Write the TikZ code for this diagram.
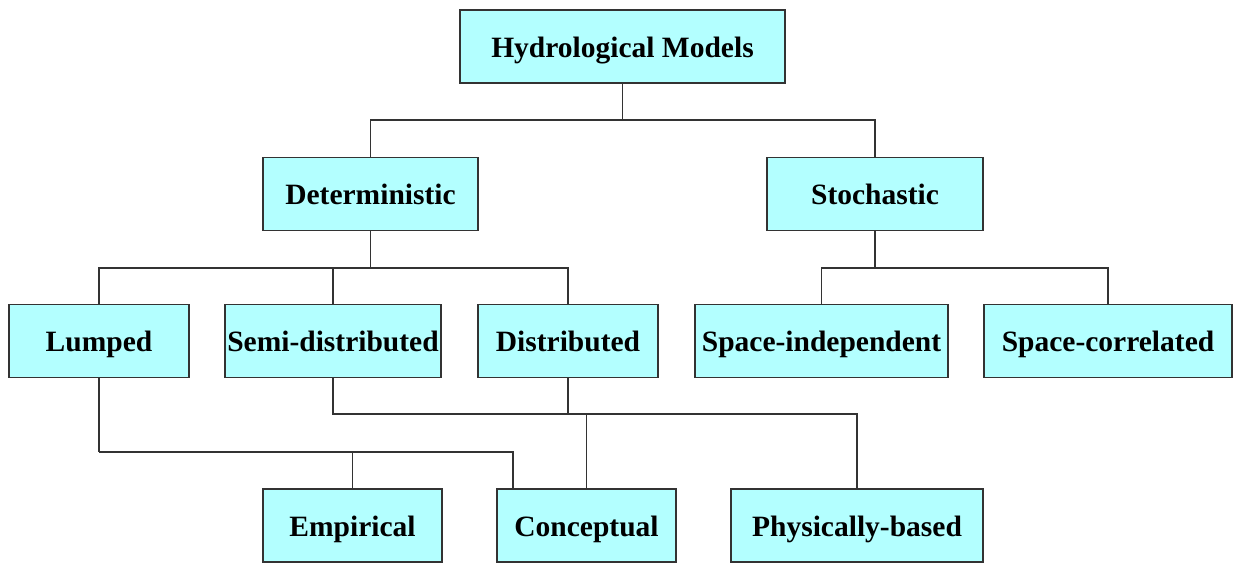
\documentclass[tikz,border=0pt]{standalone}
\usepackage{fontspec}
\setmainfont{Liberation Serif}
\definecolor{boxfill}{HTML}{B3FFFF}
\definecolor{linec}{HTML}{333333}
\begin{document}
\begin{tikzpicture}[x=1pt,y=-1pt,
  mbox/.style={draw=linec,line width=1.5pt,fill=boxfill,inner sep=0pt,
    minimum height=73pt,text height=23.5pt,text depth=2.5pt,
    font=\fontsize{29.5}{34}\selectfont\bfseries},
  conn/.style={draw=linec,line width=1.6pt}]
\useasboundingbox (0,0) rectangle (1234,563);
\node[mbox,minimum width=325pt] (hm) at (622.5,46.5) {Hydrological Models};
\node[mbox,minimum width=215pt] (det) at (370.5,194) {Deterministic};
\node[mbox,minimum width=216pt] (sto) at (875,194) {Stochastic};
\node[mbox,minimum width=180pt] (lum) at (99,341) {Lumped};
\node[mbox,minimum width=216pt] (semi) at (333,341) {Semi-distributed};
\node[mbox,minimum width=180pt] (dis) at (568,341) {Distributed};
\node[mbox,minimum width=253pt] (sind) at (821.5,341) {Space-independent};
\node[mbox,minimum width=248pt] (scor) at (1108,341) {Space-correlated};
\node[mbox,minimum width=179pt] (emp) at (352.5,525.5) {Empirical};
\node[mbox,minimum width=179pt] (con) at (586.5,525.5) {Conceptual};
\node[mbox,minimum width=252pt] (phy) at (857,525.5) {Physically-based};
\coordinate (j1) at (hm.south |- 0,120);
\coordinate (j2) at (det.south |- 0,268);
\coordinate (j3) at (sto.south |- 0,268);
\coordinate (j4) at (dis.south |- 0,414);
\coordinate (j5) at (lum.south |- 0,452);
\coordinate (cx) at ([xshift=17pt]con.north west);
\draw[conn] (hm.south) -- (j1);
\draw[conn] (j1) -| (det.north);
\draw[conn] (j1) -| (sto.north);
\draw[conn] (det.south) -- (j2);
\draw[conn] (j2) -| (lum.north);
\draw[conn] (j2) -| (semi.north);
\draw[conn] (j2) -| (dis.north);
\draw[conn] (sto.south) -- (j3);
\draw[conn] (j3) -| (sind.north);
\draw[conn] (j3) -| (scor.north);
\draw[conn] (dis.south) -- (j4);
\draw[conn] (semi.south) |- (j4);
\draw[conn] (j4) -| (con.north);
\draw[conn] (j4) -| (phy.north);
\draw[conn] (lum.south) -- (j5);
\draw[conn] (j5) -| (emp.north);
\draw[conn] (j5) -| (cx);
\end{tikzpicture}
\end{document}
